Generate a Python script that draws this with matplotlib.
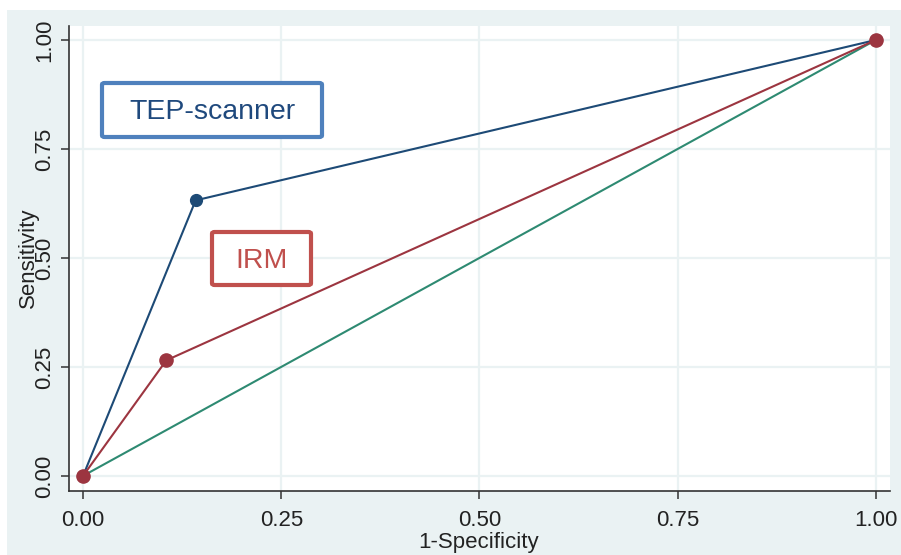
import matplotlib
matplotlib.use("Agg")
import matplotlib.pyplot as plt
from matplotlib.patches import Rectangle, FancyBboxPatch

plt.rcParams['font.family'] = ['Liberation Sans', 'DejaVu Sans']

# ROC curve points (1-specificity, sensitivity)
tep_fpr = [0.0, 0.142, 1.0]
tep_sens = [0.0, 0.632, 1.0]
irm_fpr = [0.0, 0.105, 1.0]
irm_sens = [0.0, 0.265, 1.0]
ref_fpr = [0.0, 1.0]
ref_sens = [0.0, 1.0]

ticks = [0.0, 0.25, 0.5, 0.75, 1.0]
tick_labels = ["0.00", "0.25", "0.50", "0.75", "1.00"]

W, H = 901, 555
fig = plt.figure(figsize=(W / 100, H / 100), dpi=100, facecolor="white")

# graph region background
fig.patches.append(Rectangle((7 / W, 0), 1 - 7 / W, 1 - 10 / H,
                             transform=fig.transFigure, facecolor="#eaf2f3",
                             edgecolor="none", zorder=-5))

ax = fig.add_axes([69 / W, 1 - 490.7 / H, (890 - 69) / W, (490.7 - 26) / H])
ax.set_facecolor("white")

navy = "#1d4a76"
maroon = "#9c3540"
teal = "#2e8a72"

ax.plot(ref_fpr, ref_sens, color=teal, lw=1.5, zorder=3)
ax.plot(tep_fpr, tep_sens, color=navy, lw=1.5, marker="o", ms=8.5,
        zorder=4)
ax.plot(irm_fpr, irm_sens, color=maroon, lw=1.5, marker="o", ms=9.5,
        zorder=5)

ax.set_xlim(-0.0177, 1.0177)
ax.set_ylim(-0.034, 1.032)
ax.set_xticks(ticks)
ax.set_xticklabels(tick_labels)
ax.set_yticks(ticks)
ax.set_yticklabels(tick_labels, rotation=90, va="center")

ax.grid(True, color="#eaf2f3", lw=1.6, zorder=0)
ax.set_axisbelow(True)
for side in ("top", "right"):
    ax.spines[side].set_visible(False)
for side in ("left", "bottom"):
    ax.spines[side].set_color("#333333")
    ax.spines[side].set_linewidth(1.2)
ax.tick_params(axis="both", direction="out", length=6, width=1.1,
               color="#333333", labelsize=16, labelcolor="#222222")
ax.tick_params(axis="x", pad=8)
ax.tick_params(axis="y", pad=4)

fig.text(479 / W, 1 - 542.5 / H, "1-Specificity", ha="center", va="center",
         fontsize=16, color="#222222")
fig.text(28 / W, 1 - 258 / H, "Sensitivity", ha="center", va="center",
         rotation=90, fontsize=16, color="#222222")

# annotation boxes
def label_box(x0, y0, x1, y1, text, tcolor, ecolor):
    box = FancyBboxPatch((x0 / W, 1 - y1 / H), (x1 - x0) / W, (y1 - y0) / H,
                         boxstyle="round,pad=0,rounding_size=0.003",
                         transform=fig.transFigure, facecolor="white",
                         edgecolor=ecolor, lw=3.0, zorder=10)
    fig.patches.append(box)
    fig.text((x0 + x1) / 2 / W, 1 - ((y0 + y1) / 2 + 2) / H, text,
             ha="center", va="center", fontsize=20.5, color=tcolor,
             zorder=11)

label_box(102, 83, 322, 137, "TEP-scanner", "#1f497d", "#4f81bd")
label_box(212, 232, 311, 285, "IRM", "#c0504d", "#c0504d")

fig.savefig("out.png", dpi=100, facecolor="white")
